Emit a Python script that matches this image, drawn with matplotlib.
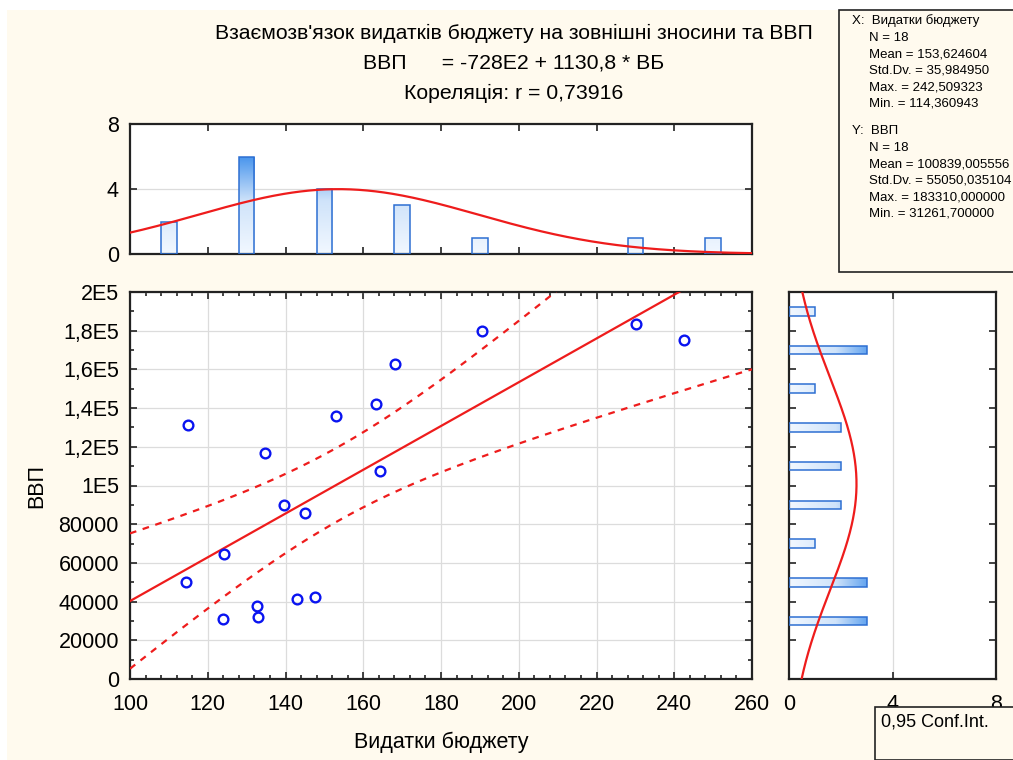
import numpy as np
import matplotlib
matplotlib.use('Agg')
import matplotlib.pyplot as plt
from matplotlib.patches import Rectangle
from matplotlib.colors import LinearSegmentedColormap
from matplotlib.ticker import MultipleLocator, FixedLocator

W, H = 1013, 760

# budget spending (x) and GDP (y) for 18 observations
budget = [114.8, 114.36, 124.2, 124.0, 132.6, 133.0, 134.7, 139.5, 144.9,
          143.0, 147.6, 153.1, 163.3, 164.3, 168.1, 190.5, 230.2, 242.51]
gdp = [131200, 50000, 64400, 31261.7, 37600, 31800, 116900, 90000, 85800,
       41200, 42200, 136000, 142100, 107300, 162700, 179600, 183310, 175300]

# marginal histograms
hist_x_centers = [110, 130, 150, 170, 190, 230, 250]
hist_x_counts = [2, 6, 4, 3, 1, 1, 1]
hist_y_centers = [30000, 50000, 70000, 90000, 110000, 130000, 150000, 170000, 190000]
hist_y_counts = [3, 3, 1, 2, 2, 2, 1, 3, 1]

# fit / descriptive stats
intercept = -72800
slope = 1130.8
r = 0.73916
n = 18
mean_x, sd_x = 153.624604, 35.984950
mean_y, sd_y = 100839.00555, 55050.0351
t_crit = 2.1199  # t(0.975, 16)

y_ticks = [0, 20000, 40000, 60000, 80000, 100000, 120000, 140000, 160000, 180000, 200000]
y_tick_labels = ['0', '20000', '40000', '60000', '80000', '1E5', '1,2E5', '1,4E5',
                 '1,6E5', '1,8E5', '2E5']
x_ticks = [100, 120, 140, 160, 180, 200, 220, 240, 260]

stats_x = ['X:  Видатки бюджету', 'N = 18', 'Mean = 153,624604', 'Std.Dv. = 35,984950',
           'Max. = 242,509323', 'Min. = 114,360943']
stats_y = ['Y:  ВВП', 'N = 18', 'Mean = 100839,005556', 'Std.Dv. = 55050,035104',
           'Max. = 183310,000000', 'Min. = 31261,700000']

plt.rcParams['font.family'] = ['Liberation Sans', 'DejaVu Sans']
REG = ['Liberation Sans', 'DejaVu Sans']

CREAM = '#fffaee'
RED = '#ee1c1c'
EDGE = '#2d6fd2'
SPINE = '#222222'
blues = LinearSegmentedColormap.from_list('bar', ['#f2f8ff', '#cfe3fa', '#2f86ea'])


def box(l, t, r_, b):
    # pixel box -> figure rect
    return [l / W, 1 - b / H, (r_ - l) / W, (b - t) / H]


def style(ax):
    ax.set_facecolor('white')
    for s in ax.spines.values():
        s.set_color(SPINE)
        s.set_linewidth(1.6)
    ax.tick_params(which='both', direction='in', top=True, right=True,
                   color=SPINE, width=1.2, labelsize=15.5)
    ax.tick_params(which='major', length=5)
    ax.tick_params(which='minor', length=3)


def normal(v, mu, sd, scale):
    return scale * np.exp(-0.5 * ((v - mu) / sd) ** 2) / (sd * np.sqrt(2 * np.pi))


fig = plt.figure(figsize=(W / 100, H / 100), dpi=100, facecolor='white')
fig.patches.append(Rectangle((7 / W, 0), 1, 1 - 10 / H, transform=fig.transFigure,
                             facecolor=CREAM, edgecolor='none', zorder=-10))

# --- scatter with fit and confidence band
ax = fig.add_axes(box(130, 292, 752, 679))
style(ax)
ax.set_xlim(100, 260)
ax.set_ylim(0, 200000)
ax.xaxis.set_major_locator(FixedLocator(x_ticks))
ax.xaxis.set_minor_locator(MultipleLocator(4))
ax.yaxis.set_major_locator(FixedLocator(y_ticks))
ax.yaxis.set_minor_locator(MultipleLocator(10000))
ax.set_yticklabels(y_tick_labels)
ax.grid(True, which='major', color='#dcdcdc', lw=0.9)
ax.set_axisbelow(True)
ax.tick_params(axis='x', pad=11)
ax.tick_params(axis='y', pad=8)

xs = np.linspace(100, 260, 300)
fit = intercept + slope * xs
s_res = sd_y * np.sqrt((1 - r ** 2) * (n - 1) / (n - 2))
se = s_res * np.sqrt(1 / n + (xs - mean_x) ** 2 / ((n - 1) * sd_x ** 2))
ax.plot(xs, fit, color=RED, lw=1.6, zorder=3)
ax.plot(xs, fit + t_crit * se, color=RED, lw=1.6, ls=(0, (3, 3)), zorder=3)
ax.plot(xs, fit - t_crit * se, color=RED, lw=1.6, ls=(0, (3, 3)), zorder=3)
ax.plot(budget, gdp, 'o', ms=7, mfc='none', mec='#0a14f0', mew=1.7, zorder=4)
ax.set_xlabel('Видатки бюджету', fontsize=15.5, labelpad=12)
ax.set_ylabel('ВВП', fontsize=15.5, labelpad=8)

# --- top histogram (x)
axt = fig.add_axes(box(130, 124, 752, 254))
style(axt)
axt.set_xlim(100, 260)
axt.set_ylim(0, 8)
axt.xaxis.set_major_locator(MultipleLocator(20))
axt.set_xticklabels([])
axt.set_yticks([0, 4, 8])
axt.tick_params(axis='y', pad=8)
axt.axhline(4, color='#dcdcdc', lw=0.9, zorder=0)
grad_v = np.linspace(0, 1, 256).reshape(-1, 1)
for c, k in zip(hist_x_centers, hist_x_counts):
    rect = Rectangle((c - 2, 0), 4, k, facecolor='none', edgecolor=EDGE, lw=1.1, zorder=3)
    axt.add_patch(rect)
    im = axt.imshow(grad_v, cmap=blues, origin='lower', aspect='auto',
                    extent=(c - 2, c + 2, 0, 6.5), zorder=2)
    im.set_clip_path(rect)
axt.set_xlim(100, 260)
axt.set_ylim(0, 8)
gx = np.linspace(100, 260, 300)
axt.plot(gx, normal(gx, mean_x, sd_x, n * 20), color=RED, lw=1.6, zorder=4)

# --- right histogram (y)
axr = fig.add_axes(box(789, 292, 996, 679))
style(axr)
axr.set_xlim(0, 8)
axr.set_ylim(0, 200000)
axr.set_xticks([0, 4, 8])
axr.yaxis.set_major_locator(MultipleLocator(20000))
axr.set_yticklabels([])
axr.tick_params(axis='x', pad=11)
axr.axvline(4, color='#dcdcdc', lw=0.9, zorder=0)
grad_h = np.linspace(0, 1, 256).reshape(1, -1)
for c, k in zip(hist_y_centers, hist_y_counts):
    rect = Rectangle((0, c - 2200), k, 4400, facecolor='none', edgecolor=EDGE, lw=1.1, zorder=3)
    axr.add_patch(rect)
    im = axr.imshow(grad_h, cmap=blues, origin='lower', aspect='auto',
                    extent=(0, 3.6, c - 2200, c + 2200), zorder=2)
    im.set_clip_path(rect)
axr.set_xlim(0, 8)
axr.set_ylim(0, 200000)
gy = np.linspace(0, 200000, 300)
axr.plot(normal(gy, mean_y, sd_y, n * 20000), gy, color=RED, lw=1.6, zorder=4)

# --- titles
fig.text(514 / W, 1 - 33 / H, "Взаємозв'язок видатків бюджету на зовнішні зносини та ВВП",
         ha='center', va='center', fontsize=15.3)
fig.text(514 / W, 1 - 63 / H, 'ВВП      = -728E2 + 1130,8 * ВБ',
         ha='center', va='center', fontsize=15.3)
fig.text(514 / W, 1 - 93 / H, 'Кореляція: r = 0,73916',
         ha='center', va='center', fontsize=15.3)

# --- stats box
fig.patches.append(Rectangle((839 / W, 1 - 272 / H), 1, 262 / H, transform=fig.transFigure,
                             facecolor=CREAM, edgecolor=SPINE, lw=1.2, zorder=1))
for block, top in ((stats_x, 21), (stats_y, 131)):
    for i, line in enumerate(block):
        fig.text((852 if i == 0 else 869) / W, 1 - (top + i * 16.6) / H, line,
                 ha='left', va='center', fontsize=9.5, family=REG, zorder=2)

# --- legend box
fig.patches.append(Rectangle((875 / W, 0), 1, 1 - 707 / H, transform=fig.transFigure,
                             facecolor=CREAM, edgecolor=SPINE, lw=1.2, zorder=1))
fig.text(881 / W, 1 - 722 / H, '0,95 Conf.Int.', ha='left', va='center',
         fontsize=13, family=REG, zorder=2)

fig.savefig('out.png', dpi=100, facecolor=fig.get_facecolor())
